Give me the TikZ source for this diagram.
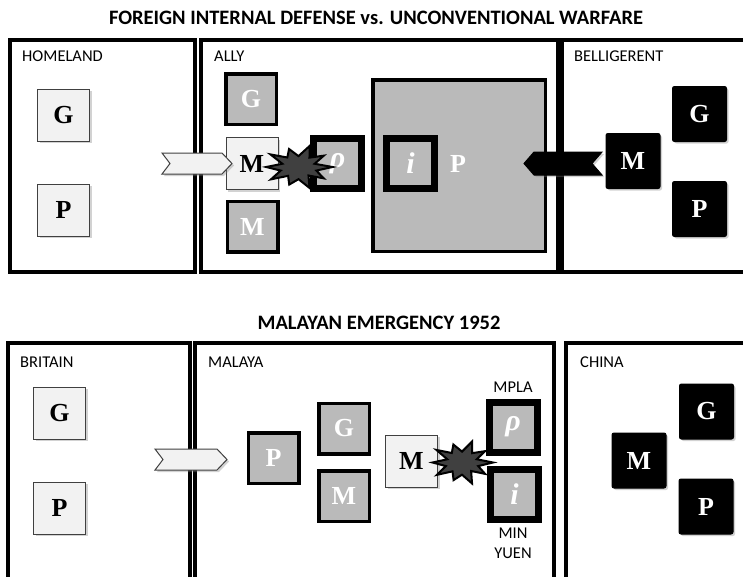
\documentclass[tikz,border=0pt]{standalone}
\usepackage{fontspec}
\setmainfont{Liberation Serif}
\newfontfamily\labfont{Carlito}
\usetikzlibrary{shadows}
\tikzset{
  frame/.style={draw=black, line width=4pt},
  sh/.style={drop shadow={opacity=0.35,shadow xshift=2pt,shadow yshift=-2pt}},
  letter/.style={inner sep=0pt, font=\bfseries\fontsize{26}{26}\selectfont},
  lightbox/.style={letter, sh, draw=black!75, line width=1pt, fill=black!5, minimum width=52pt, minimum height=52pt, text=black},
  graybox/.style={letter, sh, draw=black, line width=3.5pt, fill=black!27, minimum width=50.5pt, minimum height=50.5pt, text=white},
  thickbox/.style={letter, sh, draw=black, line width=7pt, fill=black!27, minimum width=48pt, minimum height=50pt, text=white},
  blackbox/.style={letter, sh, draw=black, fill=black, line width=1pt, rounded corners=2pt, minimum width=54pt, minimum height=55pt, text=white},
  lbl/.style={font=\labfont\fontsize{16.5}{16.5}\selectfont, anchor=west, inner sep=0pt},
  clbl/.style={font=\labfont\fontsize{16.5}{16.5}\selectfont, inner sep=0pt},
  ttl/.style={font=\labfont\bfseries\fontsize{20.5}{20.5}\selectfont, inner sep=0pt},
  whitearrow/.style={sh, draw=black!75, line width=1pt, fill=black!5},
  blackarrow/.style={sh, draw=black, line width=1pt, fill=black},
  boom/.style={draw=black, line width=2pt, fill=black!75, line join=miter},
  greek/.style={font=\bfseries\itshape\fontsize{30}{30}\selectfont},
}
\newcommand\boomshape{%
  (0:1) -- (18:0.55) -- (36:0.92) -- (54:0.5) -- (72:1.05) -- (90:0.58) -- (108:0.88) -- (126:0.52) -- (144:1.0) -- (162:0.55)
  -- (180:0.95) -- (198:0.5) -- (216:1.02) -- (234:0.56) -- (252:0.9) -- (270:0.52) -- (288:1.05) -- (306:0.55) -- (324:0.92) -- (342:0.5) -- cycle}
\begin{document}
\begin{tikzpicture}[x=1pt,y=-1pt]
\useasboundingbox (0,0) rectangle (743,576);
\clip (0,0) rectangle (743,576);
\fill[white] (0,0) rectangle (743,576);

% ---------- top ----------
\node[ttl] (t1) at (376,18) {FOREIGN INTERNAL DEFENSE vs. UNCONVENTIONAL WARFARE};
\draw[frame] (10,40) rectangle (195,272);
\draw[frame] (201,40) rectangle (558,272);
\draw[frame] (562,40) rectangle (760,272);
\node[lbl] (home) at (22,56) {HOMELAND};
\node[lbl] (ally) at (214,56) {ALLY};
\node[lbl] (bell) at (574,56) {BELLIGERENT};

\node[lightbox] (hG) at (63.5,115) {G};
\node[lightbox] (hP) at (63.5,210) {P};

\node[graybox] (aG) at (251,99) {G};
\node[lightbox] (aM) at (252,163.5) {M};
\node[graybox] (aM2) at (252.5,226.5) {M};
\node[thickbox, greek] (arho) at (337.5,163.5) {ρ};
\node[graybox, minimum width=172.5pt, minimum height=171.5pt] (aP) at (459,165.5) {};
\node[thickbox, greek] (ai) at (410.5,163.5) {i};
\node[letter, text=white] (aPl) at (458,163.5) {P};

\node[blackbox] (bM) at (633,161) {M};
\node[blackbox] (bG) at (699.5,114) {G};
\node[blackbox] (bP) at (699.5,209) {P};

\draw[whitearrow] (162,153) -- (222,153) -- (232,163.5) -- (222,174) -- (162,174) -- (170,163.5) -- cycle;
\draw[blackarrow] (602,152) -- (534,152) -- (524,163.5) -- (534,175) -- (602,175) -- (592,163.5) -- cycle;
\begin{scope}[shift={(298.5,167)}, xscale=34, yscale=21]
\draw[boom] \boomshape;
\end{scope}

% ---------- bottom ----------
\node[ttl] (t2) at (379,323) {MALAYAN EMERGENCY 1952};
\draw[frame] (8,343) rectangle (190,600);
\draw[frame] (195,343) rectangle (554,600);
\draw[frame] (566,343) rectangle (760,600);
\node[lbl] (brit) at (20,362) {BRITAIN};
\node[lbl] (mala) at (208,362) {MALAYA};
\node[lbl] (chin) at (580,362) {CHINA};

\node[lightbox] (bG2) at (59.5,413) {G};
\node[lightbox] (bP2) at (59.5,508) {P};

\node[graybox] (mP) at (273.5,458) {P};
\node[graybox] (mG) at (344,428.5) {G};
\node[graybox] (mM2) at (344,496) {M};
\node[lightbox] (mM) at (411.5,461) {M};
\node[thickbox, greek] (mrho) at (513,427) {ρ};
\node[thickbox, greek] (mi) at (514.5,494) {i};
\node[clbl] (mpla) at (513,387) {MPLA};
\node[clbl] (min) at (513,533) {MIN};
\node[clbl] (yuen) at (513,553) {YUEN};

\node[blackbox] (cM) at (639,460.5) {M};
\node[blackbox] (cG) at (706.5,411.5) {G};
\node[blackbox] (cP) at (706,506.5) {P};

\draw[whitearrow] (155,449) -- (217,449) -- (227,459.5) -- (217,470) -- (155,470) -- (163,459.5) -- cycle;
\begin{scope}[shift={(462,462.5)}, xscale=31, yscale=21]
\draw[boom] \boomshape;
\end{scope}
\end{tikzpicture}
\end{document}
